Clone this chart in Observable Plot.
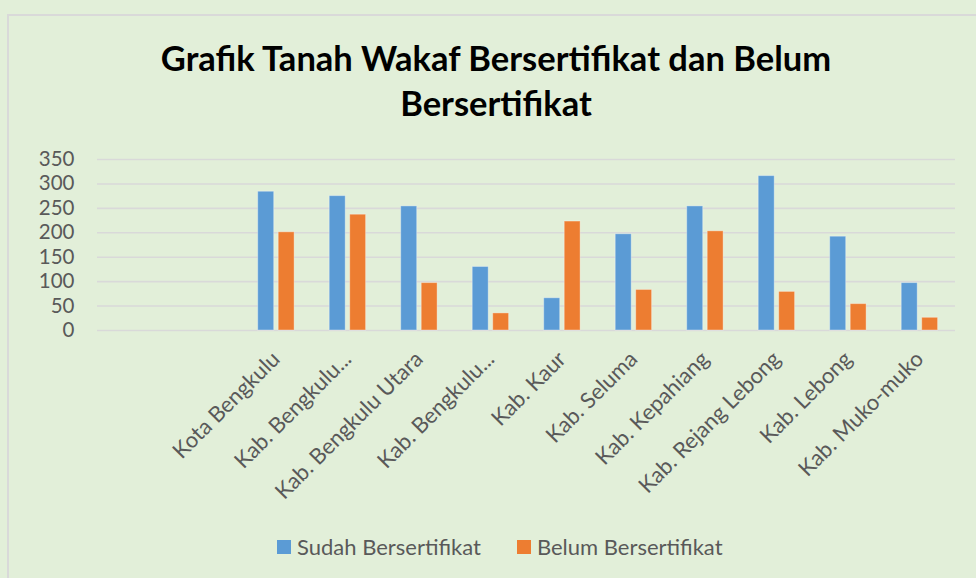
<!DOCTYPE html>
<html>
<head>
<meta charset="utf-8">
<script src="https://cdn.jsdelivr.net/npm/d3@7"></script>
<script src="https://cdn.jsdelivr.net/npm/@observablehq/plot@0.6"></script>
<style>
  html, body { margin: 0; padding: 0; background: #e2efd9; width: 976px; height: 578px; overflow: hidden; font-family: Lato, "Open Sans", sans-serif; }
  #frame { position: absolute; left: 7px; top: 14px; width: 1100px; height: 700px; border-top: 2px solid #d9d9d9; border-left: 2px solid #d9d9d9; }
  #title { position: absolute; left: 0; top: 35px; width: 992px; text-align: center; font-weight: bold; font-size: 34.5px; line-height: 45px; color: #000; }
  #chart { position: absolute; left: 0; top: 140px; }
  #legend { position: absolute; left: 277px; top: 533px; display: flex; align-items: center; font-size: 22px; color: #595959; }
  .item { display: flex; align-items: center; margin-right: 36px; }
  .sw { width: 14px; height: 14px; margin-right: 6px; }
</style>
</head>
<body>
<div id="frame"></div>
<div id="title">Grafik Tanah Wakaf Bersertifikat dan Belum<br>Bersertifikat</div>
<div id="chart"></div>
<div id="legend"></div>
<script>
// Data
const blankSlots = ["", " "]; // two empty category slots at the start of the axis
const categories = [
  "Kota Bengkulu",
  "Kab. Bengkulu Selatan",
  "Kab. Bengkulu Utara",
  "Kab. Bengkulu Tengah",
  "Kab. Kaur",
  "Kab. Seluma",
  "Kab. Kepahiang",
  "Kab. Rejang Lebong",
  "Kab. Lebong",
  "Kab. Muko-muko"
];
const series = ["Sudah Bersertifikat", "Belum Bersertifikat"];
const sudah = [284, 275, 254, 130, 66, 197, 254, 316, 192, 97];
const belum = [201, 237, 97, 35, 223, 83, 203, 79, 54, 26];
const colors = ["#5b9bd5", "#ed7d31"];
const yTicks = [0, 50, 100, 150, 200, 250, 300, 350];

const rows = [];
categories.forEach((c, i) => {
  rows.push({region: c, series: series[0], value: sudah[i]});
  rows.push({region: c, series: series[1], value: belum[i]});
});

const fmtLabel = d => d.length > 19 ? d.split(" ").slice(0, 2).join(" ") + "..." : d;

const chart = Plot.plot({
  width: 976,
  height: 380,
  marginLeft: 97,
  marginRight: 21,
  marginTop: 19,
  marginBottom: 190,
  style: { background: "transparent", fontFamily: "Lato, 'Open Sans', sans-serif" },
  x: { domain: [...blankSlots, ...categories], padding: 0, round: false },
  y: { domain: [0, 350] },
  color: { domain: series, range: colors },
  marks: [
    Plot.ruleY(yTicks, { stroke: "#d9d9d9", strokeWidth: 1.6 }),
    Plot.barY(rows.filter(d => d.series === series[0]), {
      x: "region", y: "value", fill: "series",
      insetLeft: 17.7, insetRight: 37.8,
      stroke: "#ffffff", strokeOpacity: 0.35, strokeWidth: 1
    }),
    Plot.barY(rows.filter(d => d.series === series[1]), {
      x: "region", y: "value", fill: "series",
      insetLeft: 38.2, insetRight: 17.4,
      stroke: "#ffffff", strokeOpacity: 0.35, strokeWidth: 1
    }),
    Plot.axisY({ ticks: yTicks, tickSize: 0, tickPadding: 23, fontSize: 20.5, color: "#595959", label: null }),
    Plot.axisX({ tickRotate: -45, tickSize: 0, tickPadding: 25, fontSize: 22, color: "#595959", label: null, tickFormat: fmtLabel })
  ]
});
document.getElementById("chart").appendChild(chart);

const legend = document.getElementById("legend");
series.forEach((s, i) => {
  const item = document.createElement("div");
  item.className = "item";
  const sw = document.createElement("div");
  sw.className = "sw";
  sw.style.background = colors[i];
  const tx = document.createElement("span");
  tx.textContent = s;
  item.appendChild(sw);
  item.appendChild(tx);
  legend.appendChild(item);
});
</script>
</body>
</html>
